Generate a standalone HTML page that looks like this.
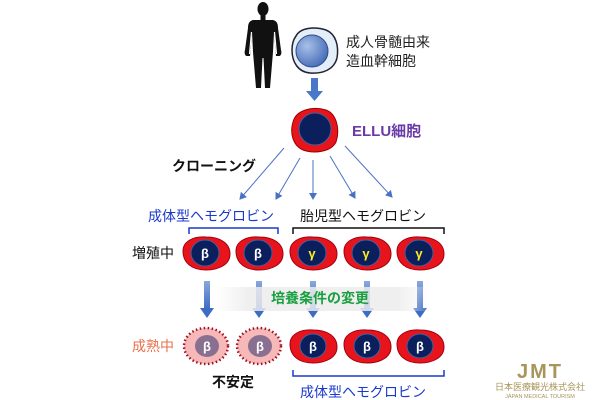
<!DOCTYPE html>
<html><head><meta charset="utf-8"><style>
html,body{margin:0;padding:0;background:#fff;}
svg{display:block;}
text{font-family:"Liberation Sans","Noto Sans CJK JP",sans-serif;}
</style></head><body>
<svg width="600" height="400" viewBox="0 0 600 400" xmlns="http://www.w3.org/2000/svg">
<defs>
<marker id="ah" markerWidth="8" markerHeight="8" refX="6" refY="4" orient="auto" markerUnits="userSpaceOnUse">
<path d="M0,0 L7,4 L0,8 z" fill="#4a72c4"/></marker>
<radialGradient id="nuc" cx="0.35" cy="0.35" r="0.8"><stop offset="0" stop-color="#a8c0e8"/><stop offset="1" stop-color="#3a62b0"/></radialGradient>
<linearGradient id="arr" x1="0" y1="0" x2="0" y2="1"><stop offset="0" stop-color="#8aa8dc"/><stop offset="1" stop-color="#3d6cc4"/></linearGradient>
<linearGradient id="band" x1="0" y1="0" x2="1" y2="0"><stop offset="0" stop-color="#f0f0f0" stop-opacity="0"/><stop offset="0.15" stop-color="#ececec" stop-opacity="0.85"/><stop offset="0.85" stop-color="#ececec" stop-opacity="0.85"/><stop offset="1" stop-color="#f0f0f0" stop-opacity="0"/></linearGradient>
<g id="rbc"><path d="M-23,-2 C-23,-12 -12,-17 0,-16 C14,-16 24,-10 24,1 C24,12 12,17 0,17 C-14,17 -23,10 -23,-2 Z" fill="#e8141c" stroke="#a00010" stroke-width="1"/></g>
</defs>

<!-- human silhouette -->
<g fill="#111">
<ellipse cx="263" cy="9" rx="5.5" ry="7"/>
<rect x="260.5" y="15" width="5" height="5"/>
<path d="M253,20 L273,20 C277,21 278,24 278,28 L281,50 C282,53 281,56 279,56 L276,56 L274,32 L273,52 L270,88 L265,88 L263.5,58 L262.5,58 L261,88 L256,88 L253,52 L252,32 L250,56 L247,56 C245,56 244,53 245,50 L248,28 C248,24 249,21 253,20 Z"/>
</g>
<g stroke="#fff" stroke-width="1.2">
<line x1="251.5" y1="32" x2="249.5" y2="54"/>
<line x1="274.5" y1="32" x2="276.5" y2="54"/>
</g>

<!-- stem cell -->
<path d="M296,36 C300,28 314,26 326,30 C336,34 339,46 337,58 C334,70 322,74 310,73 C298,72 292,62 292,50 C292,44 293,40 296,36 Z" fill="#e4eef8" stroke="#223" stroke-width="1.5"/>
<circle cx="312" cy="51" r="16" fill="url(#nuc)" stroke="#2b4a8a" stroke-width="1"/>
<text x="346" y="47" font-size="14" fill="#222">成人骨髄由来</text>
<text x="346" y="66" font-size="14" fill="#222">造血幹細胞</text>

<!-- arrow down -->
<rect x="311" y="78" width="7" height="14" fill="#4a78c8"/>
<path d="M306,91 L323,91 L314.5,101 Z" fill="#4a78c8"/>

<!-- ELLU cell -->
<path d="M293,122 C296,110 312,106 326,110 C337,114 340,130 336,142 C331,152 314,154 303,150 C292,145 290,132 293,122 Z" fill="#e8141c" stroke="#900" stroke-width="1"/>
<circle cx="315" cy="129" r="16" fill="#0a1f5c" stroke="#4060a0" stroke-width="1"/>
<text x="352" y="136" font-size="15" font-weight="bold" fill="#6a3aa8">ELLU細胞</text>

<text x="172" y="171" font-size="14" font-weight="bold" fill="#111">クローニング</text>

<!-- fan arrows -->
<g stroke="#4a72c4" stroke-width="1" marker-end="url(#ah)">
<line x1="284" y1="148" x2="240" y2="199"/>
<line x1="300" y1="158" x2="276" y2="199"/>
<line x1="313" y1="160" x2="313" y2="199"/>
<line x1="330" y1="156" x2="355" y2="198"/>
<line x1="345" y1="146" x2="392" y2="197"/>
</g>

<!-- labels -->
<text x="148" y="221" font-size="14" fill="#1a3acc">成体型ヘモグロビン</text>
<text x="300" y="221" font-size="14" fill="#111">胎児型ヘモグロビン</text>
<path d="M189,234 L189,228 L278,228 L278,234" fill="none" stroke="#1a3acc" stroke-width="1.5"/>
<path d="M293,234 L293,228 L444,228 L444,234" fill="none" stroke="#111" stroke-width="1.5"/>

<text x="132" y="258" font-size="14" fill="#111">増殖中</text>

<!-- row1 cells -->
<g transform="translate(206,253)"><use href="#rbc"/><ellipse cx="-1" cy="0" rx="14" ry="13" fill="#0a1f5c" stroke="#4060a0"/><text x="-1" y="5" font-size="13" font-weight="bold" fill="#fff" text-anchor="middle">β</text></g>
<g transform="translate(259,253)"><use href="#rbc"/><ellipse cx="-1" cy="0" rx="14" ry="13" fill="#0a1f5c" stroke="#4060a0"/><text x="-1" y="5" font-size="13" font-weight="bold" fill="#fff" text-anchor="middle">β</text></g>
<g transform="translate(313,253)"><use href="#rbc"/><ellipse cx="-1" cy="0" rx="14" ry="13" fill="#0a1f5c" stroke="#4060a0"/><text x="-1" y="5" font-size="13" font-weight="bold" fill="#ffee22" text-anchor="middle">γ</text></g>
<g transform="translate(367,253)"><use href="#rbc"/><ellipse cx="-1" cy="0" rx="14" ry="13" fill="#0a1f5c" stroke="#4060a0"/><text x="-1" y="5" font-size="13" font-weight="bold" fill="#ffee22" text-anchor="middle">γ</text></g>
<g transform="translate(420,253)"><use href="#rbc"/><ellipse cx="-1" cy="0" rx="14" ry="13" fill="#0a1f5c" stroke="#4060a0"/><text x="-1" y="5" font-size="13" font-weight="bold" fill="#ffee22" text-anchor="middle">γ</text></g>

<!-- down arrows -->
<g fill="url(#arr)">
<rect x="204" y="281" width="6" height="28"/><path d="M200,308 L214,308 L207,318 Z" fill="#3d6cc4"/>
<rect x="256" y="281" width="6" height="28"/><path d="M252,308 L266,308 L259,318 Z" fill="#3d6cc4"/>
<rect x="310" y="281" width="6" height="28"/><path d="M306,308 L320,308 L313,318 Z" fill="#3d6cc4"/>
<rect x="364" y="281" width="6" height="28"/><path d="M360,308 L374,308 L367,318 Z" fill="#3d6cc4"/>
<rect x="417" y="281" width="6" height="28"/><path d="M413,308 L427,308 L420,318 Z" fill="#3d6cc4"/>
</g>
<!-- gray band over arrows -->
<rect x="215" y="287" width="215" height="24" fill="url(#band)"/>
<text x="320" y="303" font-size="14" font-weight="bold" fill="#1aa040" text-anchor="middle">培養条件の変更</text>

<text x="132" y="351" font-size="14" fill="#e8704a">成熟中</text>

<!-- row2 -->
<g transform="translate(206,346)"><ellipse rx="22" ry="18" fill="#f6b8b8" stroke="#a01020" stroke-width="2.5" stroke-dasharray="1.5 2.5"/><ellipse cx="1" cy="0" rx="12" ry="11" fill="#8a7090"/><text x="1" y="5" font-size="13" font-weight="bold" fill="#fff" text-anchor="middle">β</text></g>
<g transform="translate(259,346)"><ellipse rx="22" ry="18" fill="#f6b8b8" stroke="#a01020" stroke-width="2.5" stroke-dasharray="1.5 2.5"/><ellipse cx="1" cy="0" rx="12" ry="11" fill="#8a7090"/><text x="1" y="5" font-size="13" font-weight="bold" fill="#fff" text-anchor="middle">β</text></g>
<g transform="translate(313,346)"><use href="#rbc"/><ellipse cx="0" cy="0" rx="13" ry="12" fill="#0a1f5c" stroke="#4060a0"/><text x="0" y="5" font-size="13" font-weight="bold" fill="#fff" text-anchor="middle">β</text></g>
<g transform="translate(367,346)"><use href="#rbc"/><ellipse cx="0" cy="0" rx="13" ry="12" fill="#0a1f5c" stroke="#4060a0"/><text x="0" y="5" font-size="13" font-weight="bold" fill="#fff" text-anchor="middle">β</text></g>
<g transform="translate(420,346)"><use href="#rbc"/><ellipse cx="0" cy="0" rx="13" ry="12" fill="#0a1f5c" stroke="#4060a0"/><text x="0" y="5" font-size="13" font-weight="bold" fill="#fff" text-anchor="middle">β</text></g>

<text x="212" y="387" font-size="14" font-weight="bold" fill="#111">不安定</text>
<path d="M293,370 L293,376 L444,376 L444,370" fill="none" stroke="#1a3acc" stroke-width="1.5"/>
<text x="300" y="397" font-size="14" fill="#1a3acc">成体型ヘモグロビン</text>

<!-- JMT logo -->
<g fill="#a8955a">
<text x="540" y="378" font-size="20" font-weight="bold" text-anchor="middle" letter-spacing="2">JMT</text>
<text x="540" y="390" font-size="9" text-anchor="middle">日本医療観光株式会社</text>
<text x="540" y="398" font-size="5.5" text-anchor="middle">JAPAN MEDICAL TOURISM</text>
</g>
</svg>
</body></html>
